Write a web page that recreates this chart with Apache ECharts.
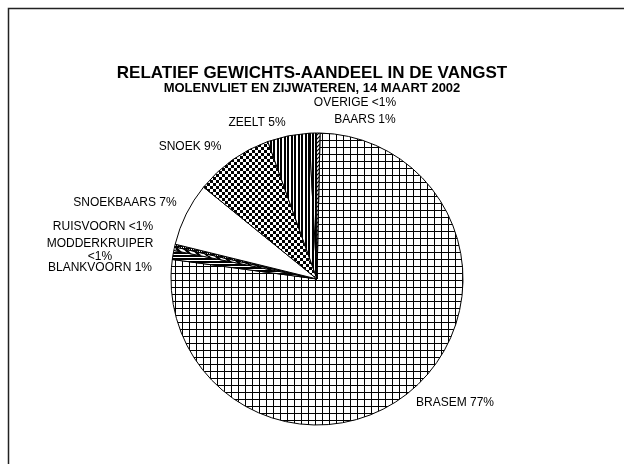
<!DOCTYPE html>
<html>
<head>
<meta charset="utf-8">
<script src="https://cdn.jsdelivr.net/npm/echarts@6/dist/echarts.min.js"></script>
<style>
  html, body { margin: 0; padding: 0; background: #fff; }
  #chart { width: 624px; height: 464px; }
</style>
</head>
<body>
<div id="chart"></div>
<script>
// Weight share of the catch per species (percent), clockwise from the top
const species = ['BRASEM', 'BLANKVOORN', 'MODDERKRUIPER', 'RUISVOORN', 'SNOEKBAARS', 'SNOEK', 'ZEELT', 'BAARS', 'OVERIGE'];
const weightShare = [76.8, 1.0, 0.4, 0.3, 7.0, 8.7, 4.6, 0.8, 0.4];
const wrappedNames = ['MODDERKRUIPER'];

const titleText = 'RELATIEF GEWICHTS-AANDEEL IN DE VANGST';
const subtitleText = 'MOLENVLIET EN ZIJWATEREN, 14 MAART 2002';

// Where each slice label sits (centre of the text block), chart-style placement
const labelPlacement = {
  BRASEM: [455, 403],
  BLANKVOORN: [100, 268],
  MODDERKRUIPER: [100, 250],
  RUISVOORN: [103, 227],
  SNOEKBAARS: [125, 203],
  SNOEK: [190, 147],
  ZEELT: [257, 123],
  BAARS: [365, 120],
  OVERIGE: [355, 103]
};

// Black-and-white fill patterns drawn on small tiles
function tile(w, h, draw) {
  const c = document.createElement('canvas');
  c.width = w; c.height = h;
  const g = c.getContext('2d');
  g.fillStyle = '#fff';
  g.fillRect(0, 0, w, h);
  g.fillStyle = '#000';
  g.strokeStyle = '#000';
  draw(g, w, h);
  return { image: c, repeat: 'repeat' };
}
function diagonal(size, width, down) {
  return tile(size, size, (g, w, h) => {
    g.lineWidth = width;
    g.beginPath();
    for (let o = -w; o <= w; o += w) {
      if (down) { g.moveTo(o, 0); g.lineTo(o + w, h); }
      else { g.moveTo(o, h); g.lineTo(o + w, 0); }
    }
    g.stroke();
  });
}
const fills = {
  BRASEM: tile(7, 7, g => { g.fillRect(0, 0, 7, 1); g.fillRect(0, 0, 1, 7); }),
  BLANKVOORN: tile(1, 3, g => g.fillRect(0, 0, 1, 2)),
  MODDERKRUIPER: diagonal(8, 2.5, true),
  RUISVOORN: tile(2, 2, g => { g.fillRect(0, 0, 2, 1); g.fillRect(0, 1, 1, 1); }),
  SNOEKBAARS: '#fff',
  SNOEK: tile(6, 6, g => { g.fillRect(0, 0, 3, 3); g.fillRect(3, 3, 3, 3); }),
  ZEELT: tile(7, 1, g => { g.fillRect(0, 0, 2, 1); g.fillRect(4, 0, 2, 1); }),
  BAARS: tile(3, 1, g => g.fillRect(0, 0, 2, 1)),
  OVERIGE: diagonal(4, 1.2, false)
};

function shareLabel(v) {
  return v < 0.5 ? '<1%' : Math.round(v) + '%';
}

const data = species.map((name, i) => ({
  name,
  value: weightShare[i],
  itemStyle: { color: fills[name] }
}));

const fontFamily = 'Liberation Sans, Arial, sans-serif';

const chart = echarts.init(document.getElementById('chart'), null, { renderer: 'canvas' });
chart.setOption({
  animation: false,
  backgroundColor: '#fff',
  title: {
    text: titleText,
    subtext: subtitleText,
    left: 'center',
    top: 60,
    itemGap: 0,
    textStyle: { fontFamily, fontSize: 17, fontWeight: 'bold', color: '#000' },
    subtextStyle: { fontFamily, fontSize: 13, fontWeight: 'bold', color: '#000' }
  },
  graphic: [{
    type: 'rect',
    silent: true,
    shape: { x: 8.5, y: 8.5, width: 700, height: 600 },
    style: { fill: 'none', stroke: '#222', lineWidth: 1.5 }
  }],
  series: [{
    type: 'pie',
    center: [317, 279],
    radius: 146,
    startAngle: 88.8,
    clockwise: true,
    avoidLabelOverlap: false,
    emphasis: { disabled: true },
    itemStyle: { borderColor: '#000', borderWidth: 1 },
    label: {
      position: 'outside',
      color: '#000',
      fontFamily,
      fontSize: 12,
      lineHeight: 13,
      align: 'center',
      formatter: p => p.name + (wrappedNames.includes(p.name) ? '\n' : ' ') + shareLabel(p.value)
    },
    labelLine: { show: false, length: 8, length2: 0 },
    labelLayout: params => {
      const name = species[params.dataIndex];
      const pos = labelPlacement[name];
      return { x: pos[0], y: pos[1], align: 'center', verticalAlign: 'middle' };
    },
    data
  }]
});
</script>
</body>
</html>
